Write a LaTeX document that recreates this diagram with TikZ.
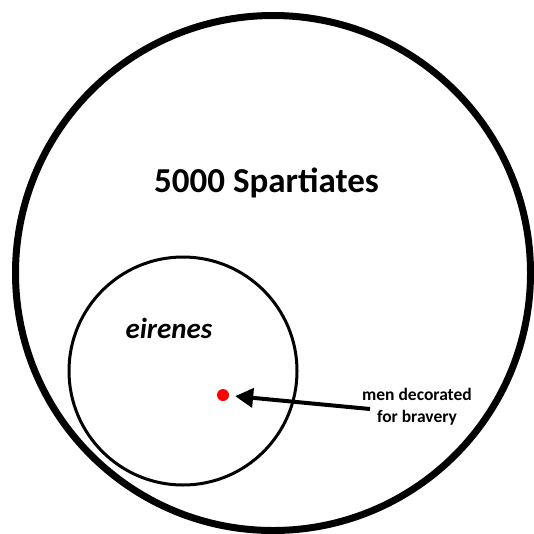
\documentclass[tikz,border=0pt]{standalone}
\usepackage{fontspec}
\setmainfont{Carlito}
\usepackage{xcolor}
\usetikzlibrary{arrows.meta,positioning}
\definecolor{dotred}{RGB}{255,0,0}
\tikzset{
  bigring/.style={draw=black, line width=7pt},
  smallring/.style={draw=black, line width=3pt},
  grouplabel/.style={font=\bfseries\fontsize{35}{42}\selectfont, anchor=base, inner sep=0pt},
  sublabel/.style={font=\bfseries\itshape\fontsize{29}{35}\selectfont, anchor=base, inner sep=0pt},
  notelabel/.style={font=\bfseries\fontsize{17.5}{22}\selectfont, align=center, inner sep=0pt},
  reddot/.style={circle, fill=dotred, minimum size=12pt, inner sep=0pt},
  parrow/.style={-{Triangle[length=18pt, width=19pt]}, line width=4pt, black}
}

\begin{document}
\begin{tikzpicture}[x=1pt, y=-1pt]
\useasboundingbox (0,0) rectangle (534,533);
\draw[bigring] (273,273) circle[radius=257.5];
\draw[smallring] (183,371) circle[radius=114];
\node[grouplabel] (spartiates) at (266.5,192) {5000 Spartiates};
\node[sublabel] (eirenes) at (169,338) {eirenes};
\node[reddot] (dot) at (223,395) {};
\node[notelabel] (note) at (417,407) {men decorated\\for bravery};
\coordinate (tail) at (370,409);
\draw[parrow, shorten >=6pt] (tail) -- (dot);
\end{tikzpicture}
\end{document}
